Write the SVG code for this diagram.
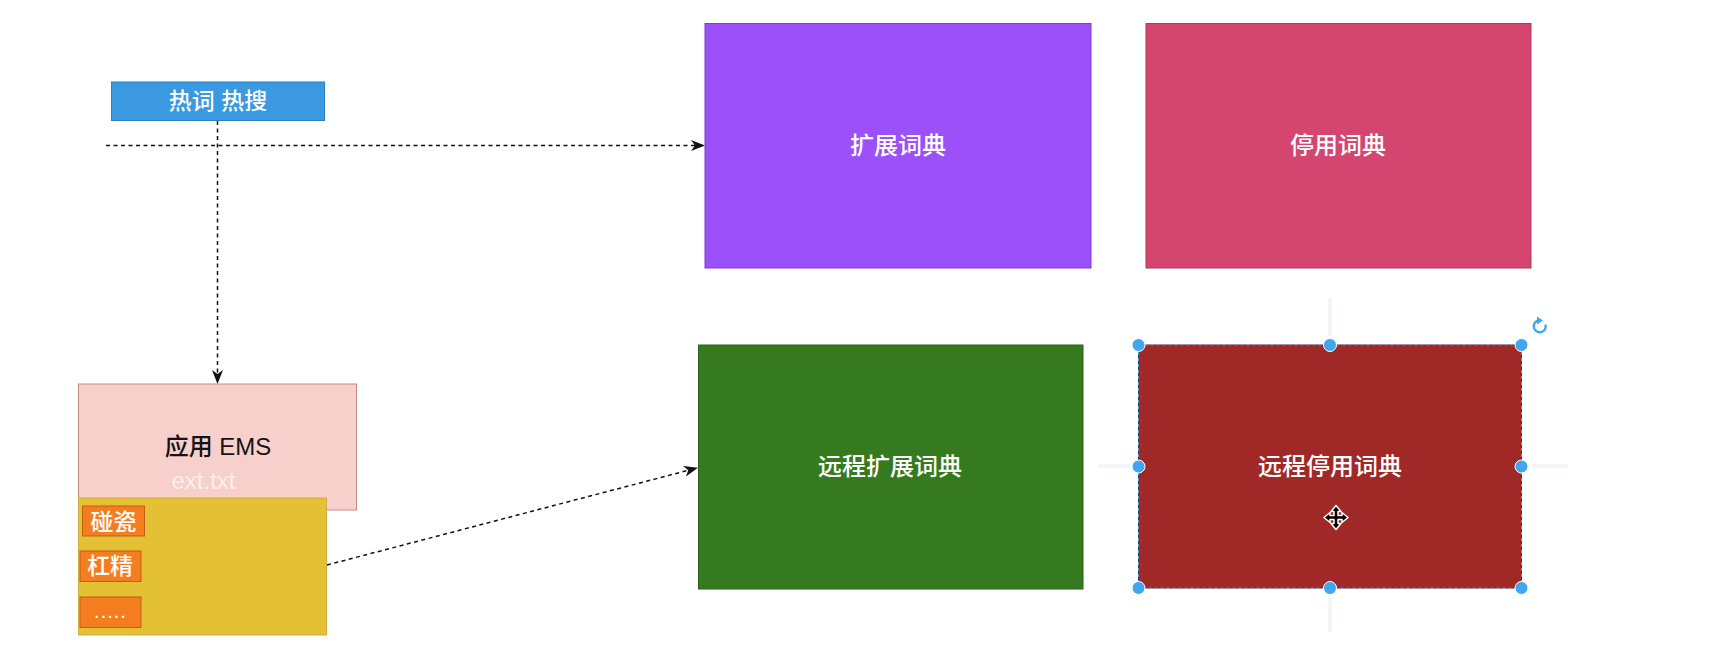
<svg xmlns="http://www.w3.org/2000/svg" width="1716" height="662" viewBox="0 0 1716 662">
<style>
.lbl{font-family:"Liberation Sans","Noto Sans CJK SC",sans-serif;font-size:24px;font-weight:500;text-anchor:middle;dominant-baseline:central;fill:#ffffff}
.sm{font-size:23px}
.conn{fill:none;stroke:#111;stroke-width:1.5;stroke-dasharray:4 3.5}
.tag{fill:#f47d1f;stroke:#c35f12;stroke-width:1}
.handle{fill:#41a6ee;stroke:#ffffff;stroke-width:1}
.guide{stroke:#f3f5f8;stroke-width:4;fill:none}
</style>
<defs>
<marker id="arr" viewBox="0 0 14 11" refX="13" refY="5.5" markerWidth="14" markerHeight="11" markerUnits="userSpaceOnUse" orient="auto">
<path d="M0,0 L14,5.5 L0,11 L4,5.5 Z" fill="#111"/>
</marker>
</defs>
<rect width="1716" height="662" fill="#ffffff"/>

<g id="guides">
<line class="guide" x1="1330" y1="298" x2="1330" y2="336"/>
<line class="guide" x1="1330" y1="598" x2="1330" y2="632"/>
<line class="guide" x1="1098" y1="466" x2="1130" y2="466"/>
<line class="guide" x1="1532" y1="466" x2="1568" y2="466"/>
</g>

<g id="connectors">
<line class="conn" x1="106" y1="145.5" x2="704" y2="145.5" marker-end="url(#arr)"/>
<line class="conn" x1="217.5" y1="121" x2="217.5" y2="383" marker-end="url(#arr)"/>
<line class="conn" x1="327" y1="565" x2="697" y2="468" marker-end="url(#arr)"/>
</g>

<g id="hot">
<rect x="111.5" y="82" width="213" height="38.5" fill="#3a99e0" stroke="#2d7fc0" stroke-width="1"/>
<text class="lbl sm" x="218" y="101">热词 热搜</text>
</g>

<g id="ems">
<rect x="78.5" y="384" width="278" height="126" fill="#f7d0cc" stroke="#c98a86" stroke-width="1"/>
<text class="lbl" x="218" y="446" style="fill:#141414">应用 EMS</text>
<text class="lbl" x="203.5" y="480" style="fill:#fbeeed">ext.txt</text>
</g>

<g id="ext-file">
<rect x="78.5" y="498" width="248" height="137" fill="#e3c034" stroke="#d2ad45" stroke-width="1"/>
<g id="tag1">
<rect class="tag" x="82.5" y="506" width="62" height="30"/>
<text class="lbl sm" x="113.5" y="521.5">碰瓷</text>
</g>
<g id="tag2">
<rect class="tag" x="80" y="551" width="61" height="30.5"/>
<text class="lbl sm" x="110" y="566">杠精</text>
</g>
<g id="tag3">
<rect class="tag" x="80" y="597" width="61" height="30.5"/>
<text class="lbl" x="110.5" y="611" style="font-size:20px;letter-spacing:1px">.....</text>
</g>
</g>

<g id="ext-dict">
<rect x="705" y="23.5" width="386" height="244.5" fill="#9b50f9" stroke="#7f3bd6" stroke-width="1"/>
<text class="lbl" x="898" y="145">扩展词典</text>
</g>

<g id="stop-dict">
<rect x="1146" y="23.5" width="385" height="244.5" fill="#d4466f" stroke="#b43659" stroke-width="1"/>
<text class="lbl" x="1338" y="145">停用词典</text>
</g>

<g id="remote-ext-dict">
<rect x="698.5" y="345" width="384.5" height="244" fill="#367a20" stroke="#2a6317" stroke-width="1"/>
<text class="lbl" x="890" y="466">远程扩展词典</text>
</g>

<g id="remote-stop-dict">
<rect x="1138.5" y="345" width="383" height="243" fill="#a02927" stroke="#7a1c1a" stroke-width="1"/>
<rect x="1138.5" y="345" width="383" height="243" fill="none" stroke="#4aa3ea" stroke-width="1" stroke-dasharray="3 3"/>
<text class="lbl" x="1330" y="466.5">远程停用词典</text>
<g id="selection-handles">
<circle class="handle" cx="1138.5" cy="345" r="6.5"/>
<circle class="handle" cx="1330" cy="345" r="6.5"/>
<circle class="handle" cx="1521.5" cy="345" r="6.5"/>
<circle class="handle" cx="1138.5" cy="466.5" r="6.5"/>
<circle class="handle" cx="1521.5" cy="466.5" r="6.5"/>
<circle class="handle" cx="1138.5" cy="588" r="6.5"/>
<circle class="handle" cx="1330" cy="588" r="6.5"/>
<circle class="handle" cx="1521.5" cy="588" r="6.5"/>
</g>
<g id="rotate-icon">
<path d="M1545.5,324.5 A6,6 0 1 1 1539,320.3" fill="none" stroke="#41a6ee" stroke-width="2.4"/>
<path d="M1537,316.5 L1543,320.5 L1537,324.5 Z" fill="#41a6ee"/>
</g>
<g id="move-cursor" transform="translate(1336,517.5)">
<path d="M0,-12 L5,-6 L2,-6 L2,-2 L6,-2 L6,-5 L12,0 L6,5 L6,2 L2,2 L2,6 L5,6 L0,12 L-5,6 L-2,6 L-2,2 L-6,2 L-6,5 L-12,0 L-6,-5 L-6,-2 L-2,-2 L-2,-6 L-5,-6 Z" fill="#000" stroke="#fff" stroke-width="1.5" stroke-linejoin="round"/>
</g>
</g>
</svg>
